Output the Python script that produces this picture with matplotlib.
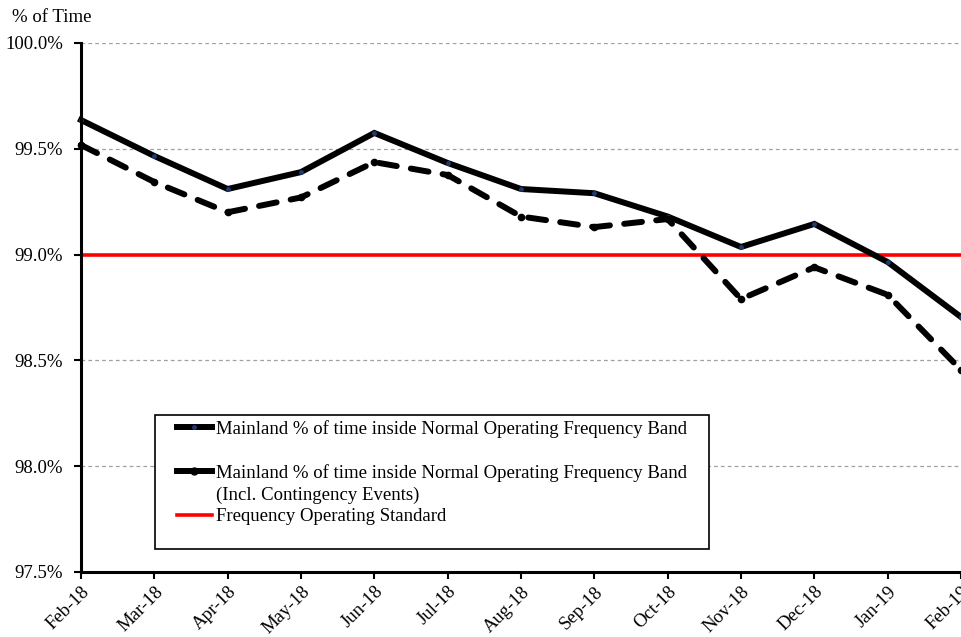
import matplotlib
matplotlib.use("Agg")
import matplotlib.pyplot as plt
from matplotlib.lines import Line2D
from matplotlib.patches import Rectangle
import numpy as np

months = ["Feb-18", "Mar-18", "Apr-18", "May-18", "Jun-18", "Jul-18", "Aug-18",
          "Sep-18", "Oct-18", "Nov-18", "Dec-18", "Jan-19", "Feb-19"]
mainland = [99.636, 99.466, 99.31, 99.39, 99.575, 99.433, 99.31,
            99.29, 99.18, 99.036, 99.145, 98.965, 98.705]
mainland_incl = [99.518, 99.343, 99.20, 99.27, 99.437, 99.376, 99.18,
                 99.13, 99.168, 98.79, 98.94, 98.81, 98.455]
standard = 99.0
yticks = [97.5, 98.0, 98.5, 99.0, 99.5, 100.0]

label_main = "Mainland % of time inside Normal Operating Frequency Band"
label_incl = "Mainland % of time inside Normal Operating Frequency Band"
label_incl2 = "(Incl. Contingency Events)"
label_std = "Frequency Operating Standard"

plt.rcParams['font.family'] = ['Liberation Serif', 'DejaVu Serif']
FS = 13.5

fig = plt.figure(figsize=(9.62, 6.37), dpi=100)
ax = fig.add_axes([81/962, 1-572/637, 880/962, 529/637])

x = np.arange(len(months))
ax.plot(x, mainland, color='black', lw=4.3, solid_joinstyle='miter',
        marker='o', ms=2.5, mfc='#1f3a6b', mec='#1f3a6b', zorder=4, clip_on=False)
ax.plot(x, mainland_incl, color='black', lw=4.3, dashes=(3.0, 2.4),
        dash_capstyle='round', marker='o', ms=4.5, mfc='black', mec='black',
        zorder=4, clip_on=False)
ax.axhline(standard, color='#ff0000', lw=2.6, zorder=3)

ax.set_xlim(0, len(months) - 1)
ax.set_ylim(97.5, 100.0)
ax.set_yticks(yticks)
ax.set_yticklabels([f"{v:.1f}%" for v in yticks], fontsize=FS)
ax.set_xticks(x)
ax.set_xticklabels(months, rotation=45, ha='right', rotation_mode='anchor', fontsize=FS)
ax.tick_params(axis='both', direction='out', length=5, width=1.5, colors='black')
ax.tick_params(axis='x', pad=3)
ax.tick_params(axis='y', pad=8)

for v in yticks[1:]:
    ax.axhline(v, color='#a0a0a0', lw=0.9, ls=(0, (3, 2.5)), zorder=1)

for s in ['top', 'right']:
    ax.spines[s].set_visible(False)
for s in ['left', 'bottom']:
    ax.spines[s].set_linewidth(2.2)
    ax.spines[s].set_color('black')
    ax.spines[s].set_zorder(5)

fig.text(12/962, 1-17/637, "% of Time", fontsize=FS, va='center', ha='left')

# legend frame
ax.add_patch(Rectangle(((155-81)/880, (572-549)/529), 554/880, 134/529,
                       transform=ax.transAxes, fill=True, facecolor='white',
                       edgecolor='black', lw=1.2, zorder=6))
handles = [
    Line2D([], [], color='black', lw=4.3, marker='o', ms=2.5, mfc='#1f3a6b', mec='#1f3a6b'),
    Line2D([], [], color='none'),
    Line2D([], [], color='black', lw=4.3, marker='o', ms=5, mfc='black', mec='black'),
    Line2D([], [], color='none'),
    Line2D([], [], color='#ff0000', lw=2.6),
]
labels = [label_main, " ", label_incl, label_incl2, label_std]
leg = fig.legend(handles, labels, loc='upper left',
                 bbox_to_anchor=(177/962, 1-420/637), frameon=False,
                 fontsize=FS, handlelength=1.85, handletextpad=0.25,
                 labelspacing=0.24, borderpad=0, borderaxespad=0)
leg.set_zorder(7)

fig.savefig("out.png", dpi=100)
